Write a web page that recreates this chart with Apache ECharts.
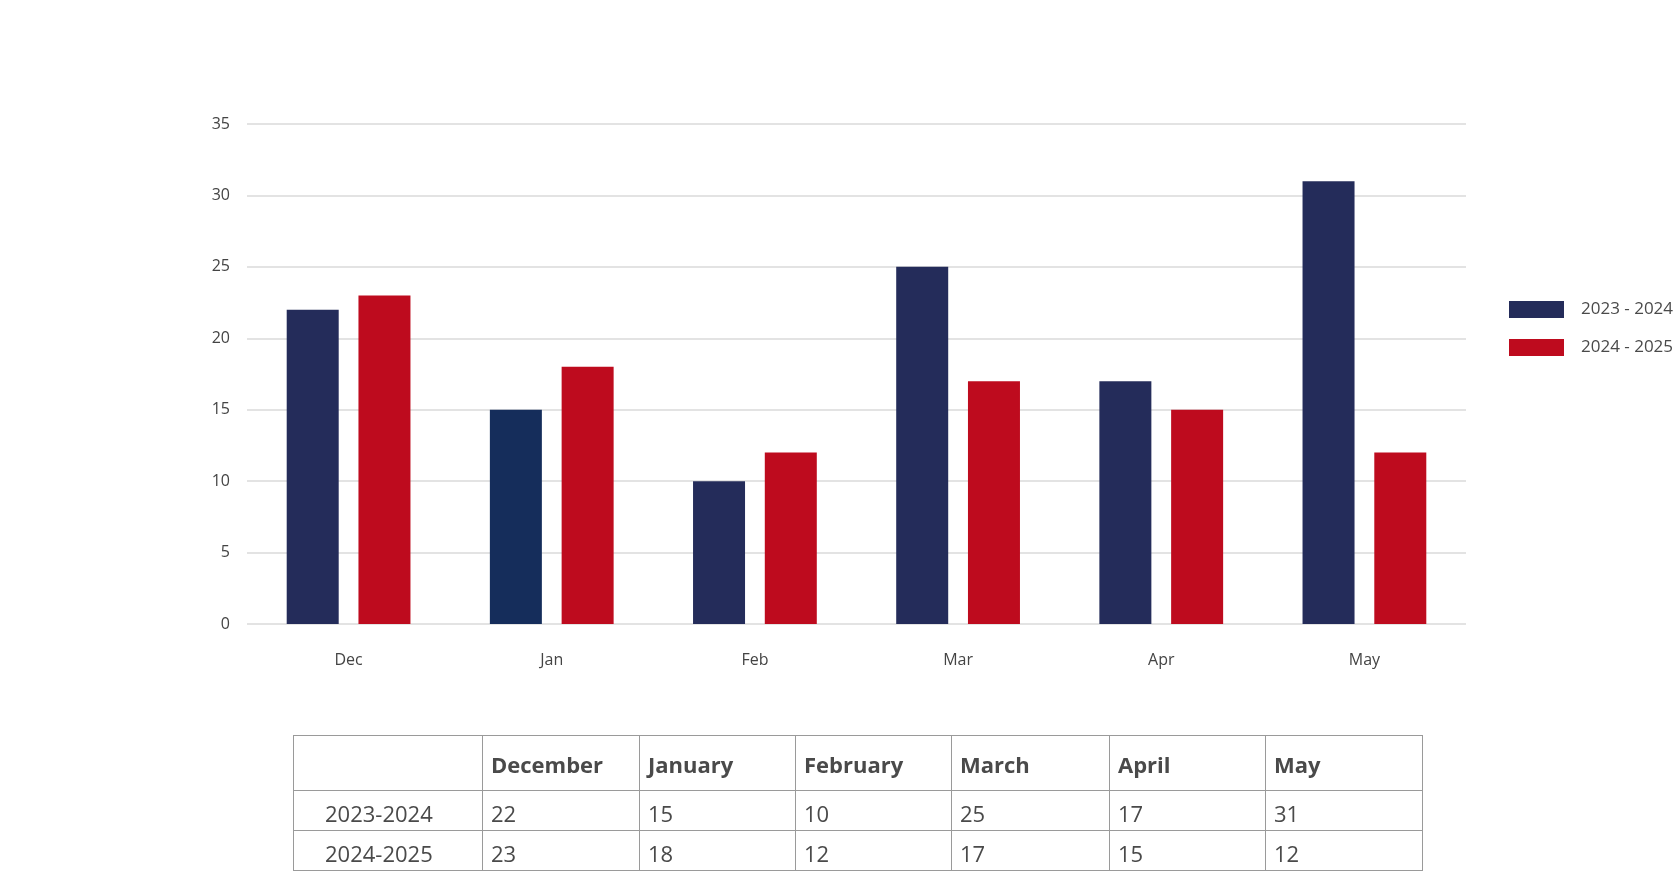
<!DOCTYPE html>
<html>
<head>
<meta charset="utf-8">
<script src="https://cdn.jsdelivr.net/npm/echarts@6/dist/echarts.min.js"></script>
<style>
  html, body { margin: 0; padding: 0; background: #fff; overflow: hidden; }
  #chart { position: absolute; left: 0; top: 0; width: 1678px; height: 871px; }
  #tbl { position: absolute; left: 293px; top: 735px; border-collapse: collapse; font-family: "Open Sans", sans-serif; color: #4a4a4a; }
  #tbl td { border: 1px solid #9a9a9a; padding: 0 0 0 8px; font-size: 22px; box-sizing: border-box; white-space: nowrap; }
  #tbl tr.h td { font-weight: bold; height: 55px; padding-top: 2px; }
  #tbl tr.r td { height: 40px; padding-top: 4px; }
  #tbl td.lab { padding-left: 31px; }
</style>
</head>
<body>
<div id="chart"></div>
<table id="tbl"></table>
<script>
const categories = ['Dec', 'Jan', 'Feb', 'Mar', 'Apr', 'May'];
const monthNames = ['December', 'January', 'February', 'March', 'April', 'May'];
const seriesNames = ['2023 - 2024', '2024 - 2025'];
const rowLabels = ['2023-2024', '2024-2025'];
const values2324 = [22, 15, 10, 25, 17, 31];
const values2425 = [23, 18, 12, 17, 15, 12];
const yTicks = [0, 5, 10, 15, 20, 25, 30, 35];

const navy = '#242c5a';
const navyJan = '#152d5b';
const red = '#be0b1e';

const chart = echarts.init(document.getElementById('chart'));
const font = '"Open Sans", sans-serif';
chart.setOption({
  animation: false,
  grid: { left: 247, right: 212, top: 124, bottom: 247, containLabel: false },
  legend: {
    orient: 'vertical',
    left: 1504,
    top: 296,
    itemWidth: 55,
    itemHeight: 17,
    itemGap: 21,
    icon: 'rect',
    textStyle: { fontFamily: font, fontSize: 17, color: '#4a4a4a', padding: [0, 0, 0, 12] },
    data: seriesNames
  },
  xAxis: {
    type: 'category',
    data: categories,
    axisLine: { show: false },
    axisTick: { show: false },
    axisLabel: { fontFamily: font, fontSize: 16, color: '#444', margin: 28 }
  },
  yAxis: {
    type: 'value',
    min: yTicks[0],
    max: yTicks[yTicks.length - 1],
    interval: 5,
    axisLine: { show: false },
    axisTick: { show: false },
    axisLabel: { fontFamily: font, fontSize: 16, color: '#444', margin: 17 },
    splitLine: { lineStyle: { color: '#e3e3e3', width: 2 } }
  },
  series: [
    {
      name: seriesNames[0],
      type: 'bar',
      barWidth: 52,
      barGap: '38%',
      itemStyle: { color: navy },
      data: values2324.map((v, i) => i === 1 ? { value: v, itemStyle: { color: navyJan } } : v)
    },
    {
      name: seriesNames[1],
      type: 'bar',
      barWidth: 52,
      barGap: '38%',
      itemStyle: { color: red },
      data: values2425
    }
  ]
});

// Data table under the chart
const tbl = document.getElementById('tbl');
const colW = [189, 157, 156, 156, 158, 156, 157];
let html = '<tr class="h"><td style="width:' + colW[0] + 'px"></td>';
monthNames.forEach((m, i) => { html += '<td style="width:' + colW[i + 1] + 'px">' + m + '</td>'; });
html += '</tr>';
[values2324, values2425].forEach((vals, r) => {
  html += '<tr class="r"><td class="lab">' + rowLabels[r] + '</td>';
  vals.forEach(v => { html += '<td>' + v + '</td>'; });
  html += '</tr>';
});
tbl.innerHTML = html;
</script>
</body>
</html>
